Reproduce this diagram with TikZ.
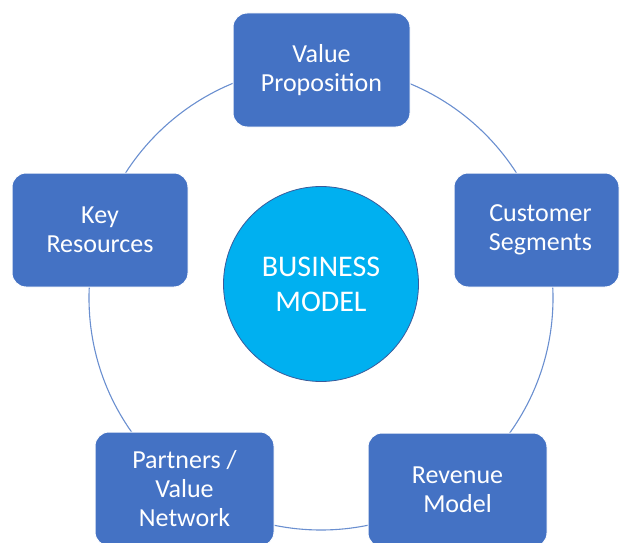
\documentclass[tikz,border=0pt]{standalone}
\usepackage{fontspec}
\setmainfont{Carlito}
\definecolor{boxblue}{HTML}{4472C4}
\definecolor{ringblue}{HTML}{6A8FD0}
\definecolor{coreblue}{HTML}{00B0F0}
\definecolor{coreedge}{HTML}{3A5A9A}
\begin{document}
\begin{tikzpicture}[x=1pt,y=-1pt,
  partbox/.style={draw=white, line width=1pt, fill=boxblue, rounded corners=14pt,
    text=white, align=center, font=\fontsize{26}{29}\selectfont, inner sep=0pt},
  core/.style={circle, draw=coreedge, line width=0.8pt, fill=coreblue, text=white,
    align=center, font=\fontsize{30}{35}\selectfont, minimum size=195pt, inner sep=0pt},
  ring/.style={draw=ringblue, line width=1.1pt}]
\useasboundingbox (0,0) rectangle (621,543);
\coordinate (ringc) at (321,298);
\draw[ring] (ringc) circle[radius=232];
\node[core] (bm) at (321,284) {BUSINESS\\MODEL};
\node[partbox, minimum width=177pt, minimum height=114pt] (vp) at (321.5,70) {Value\\Proposition};
\node[partbox, minimum width=165pt, minimum height=114pt] (cs) at (536.5,230) {\hspace*{8pt}Customer\\\hspace*{8pt}Segments};
\node[partbox, minimum width=176pt, minimum height=114pt] (kr) at (100,230) {Key\\Resources};
\node[partbox, minimum width=179pt, minimum height=114pt] (pv) at (184.5,489) {Partners /\\Value\\Network};
\node[partbox, minimum width=179pt, minimum height=114pt] (rm) at (457.5,490) {Revenue\\Model};
\end{tikzpicture}
\end{document}
